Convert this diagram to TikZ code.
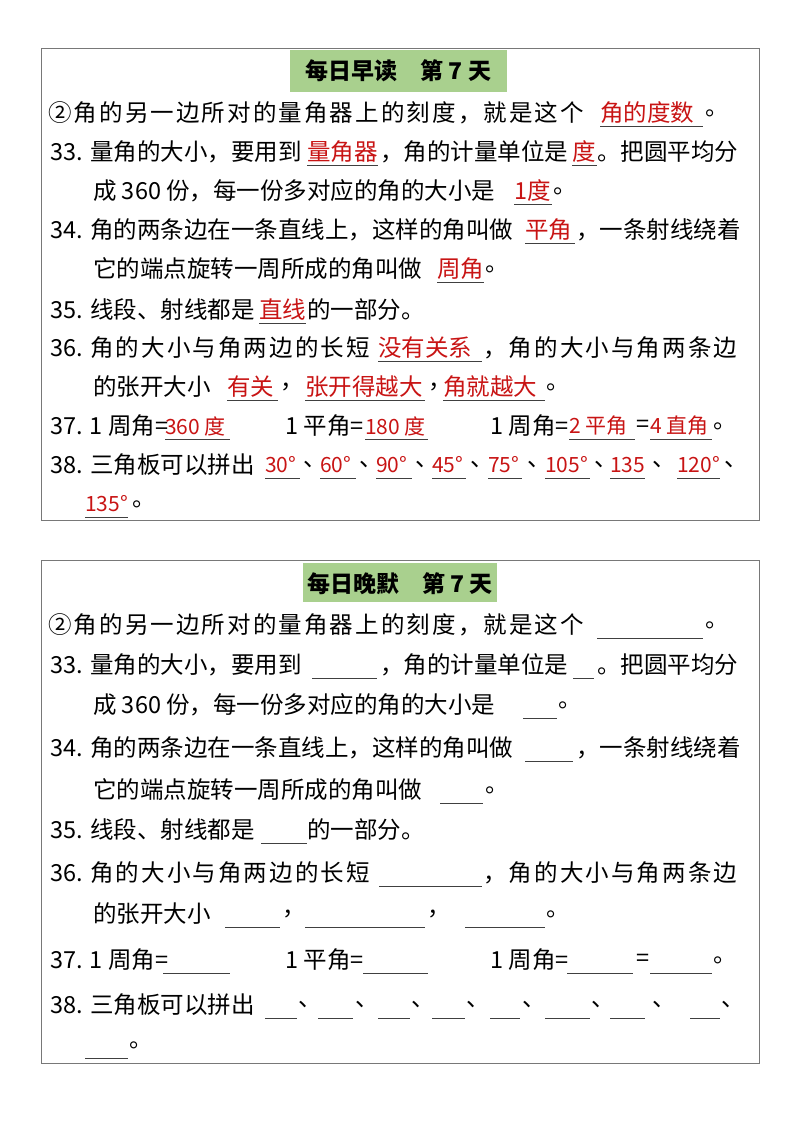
\documentclass[tikz,border=0pt]{standalone}
\usepackage{fontspec}
\setmainfont{Noto Sans CJK SC}
\newfontfamily\wide[LetterSpace=9]{Noto Sans CJK SC}
\definecolor{ansred}{RGB}{200,20,20}
\definecolor{titlegreen}{RGB}{169,208,142}
\definecolor{boxgray}{RGB}{120,120,120}
\newcommand\T[3]{\node[txt] at (#1,#2) {#3};}
\newcommand\A[4]{\node[txt,text=ansred] at (#1,#3) {#4};\draw[uline] (#1,#3+13) -- (#2,#3+13);}
\newcommand\As[4]{\node[txt,text=ansred,font=\fontsize{21}{24}\selectfont] at (#1,#3) {#4};\draw[uline] (#1,#3+13) -- (#2,#3+13);}
\newcommand\U[3]{\draw[uline] (#1,#3+13) -- (#2,#3+13);}
\newcommand\cm{\makebox[12pt][l]{，}}
\newcommand\dn{\makebox[12pt][l]{、}}
\begin{document}
\begin{tikzpicture}[x=1pt,y=-1pt,
  txt/.style={anchor=west,inner sep=0pt,font=\fontsize{23.5}{26}\selectfont},
  uline/.style={draw=black!75,line width=1pt},
  frame/.style={draw=boxgray,line width=0.9pt},
  ttl/.style={inner sep=0pt,font=\fontsize{23}{26}\selectfont\bfseries}]
\useasboundingbox (0,0) rectangle (800,1132);
% ===== top box =====
\draw[frame] (41,48) rectangle (759,520);
\fill[titlegreen] (290,50) rectangle (507,92);
\node[ttl] (t1) at (398.5,71) {每日早读\quad 第 7 天};
\T{48}{113}{\wide ②角的另一边所对的量角器上的刻度，就是这个}
\A{600}{703}{113}{角的度数}\T{705}{113}{。}
\T{50}{152}{33.}\T{90}{152}{量角的大小，要用到}\A{307}{378}{152}{量角器}
\T{380}{152}{，角的计量单位是}\A{572}{597}{152}{度}\T{597}{152}{。把圆平均分}
\T{93}{191}{成 360 份，每一份多对应的角的大小是}\A{514}{552}{191}{1度}\T{553}{191}{。}
\T{50}{230}{34.}\T{90}{230}{角的两条边在一条直线上，这样的角叫做}\A{525}{575}{230}{平角}\T{576}{230}{，一条射线绕着}
\T{93}{269}{它的端点旋转一周所成的角叫做}\A{437}{484}{269}{周角}\T{485}{269}{。}
\T{50}{310}{35.}\T{90}{310}{线段、射线都是}\A{259}{306}{310}{直线}\T{307}{310}{的一部分。}
\T{50}{348}{36.}\T{90}{348}{\wide 角的大小与角两边的长短}\A{378}{482}{348}{没有关系}\T{483}{348}{\wide ，角的大小与角两条边}
\T{93}{387}{的张开大小}\A{227}{278}{387}{有关}\T{280}{387}{\cm}\A{305}{425}{387}{张开得越大}\T{428}{387}{\cm}\A{443}{545}{387}{角就越大}\T{546}{387}{。}
\T{50}{426}{37. 1 周角=}\As{165}{230}{426}{360 度}\T{285}{426}{1 平角=}\As{365}{428}{426}{180 度}
\T{490}{426}{1 周角=}\As{569}{635}{426}{2 平角}\T{636}{426}{=}\As{650}{712}{426}{4 直角}\T{713}{426}{。}
\T{50}{465}{38.}\T{90}{465}{三角板可以拼出}
\As{265}{300}{465}{30°}\T{303}{465}{\dn}\As{320}{356}{465}{60°}\T{359}{465}{\dn}\As{376}{412}{465}{90°}\T{415}{465}{\dn}
\As{432}{466}{465}{45°}\T{470}{465}{\dn}\As{488}{522}{465}{75°}\T{527}{465}{\dn}\As{545}{590}{465}{105°}\T{594}{465}{\dn}
\As{610}{645}{465}{135}\T{652}{465}{\dn}\As{677}{720}{465}{120°}\T{724}{465}{\dn}
\As{85}{128}{504}{135°}\T{132}{504}{。}
% ===== bottom box =====
\draw[frame] (41,560) rectangle (759,1063);
\fill[titlegreen] (303,563) rectangle (497,602);
\node[ttl] (t2) at (400,584) {每日晚默\quad 第 7 天};
\T{48}{625}{\wide ②角的另一边所对的量角器上的刻度，就是这个}
\U{597}{703}{625}\T{705}{625}{。}
\T{50}{665}{33.}\T{90}{665}{量角的大小，要用到}\U{312}{377}{665}
\T{380}{665}{，角的计量单位是}\U{573}{594}{665}\T{597}{665}{。把圆平均分}
\T{93}{705}{成 360 份，每一份多对应的角的大小是}\U{523}{557}{705}\T{558}{705}{。}
\T{50}{748}{34.}\T{90}{748}{角的两条边在一条直线上，这样的角叫做}\U{525}{573}{748}\T{576}{748}{，一条射线绕着}
\T{93}{790}{它的端点旋转一周所成的角叫做}\U{440}{483}{790}\T{485}{790}{。}
\T{50}{830}{35.}\T{90}{830}{线段、射线都是}\U{261}{307}{830}\T{307}{830}{的一部分。}
\T{50}{873}{36.}\T{90}{873}{\wide 角的大小与角两边的长短}\U{379}{482}{873}\T{483}{873}{\wide ，角的大小与角两条边}
\T{93}{914}{的张开大小}\U{225}{280}{914}\T{282}{914}{\cm}\U{305}{425}{914}\T{427}{914}{\cm}\U{465}{545}{914}\T{546}{914}{。}
\T{50}{960}{37. 1 周角=}\U{163}{230}{960}\T{285}{960}{1 平角=}\U{363}{428}{960}
\T{490}{960}{1 周角=}\U{567}{633}{960}\T{636}{960}{=}\U{650}{712}{960}\T{713}{960}{。}
\T{50}{1005}{38.}\T{90}{1005}{三角板可以拼出}
\U{265}{297}{1005}\T{298}{1005}{\dn}\U{318}{353}{1005}\T{355}{1005}{\dn}\U{378}{410}{1005}\T{411}{1005}{\dn}
\U{432}{465}{1005}\T{466}{1005}{\dn}\U{490}{520}{1005}\T{522}{1005}{\dn}\U{545}{590}{1005}\T{591}{1005}{\dn}
\U{610}{645}{1005}\T{652}{1005}{\dn}\U{690}{720}{1005}\T{721}{1005}{\dn}
\U{85}{128}{1045}\T{129}{1045}{。}
\end{tikzpicture}
\end{document}
